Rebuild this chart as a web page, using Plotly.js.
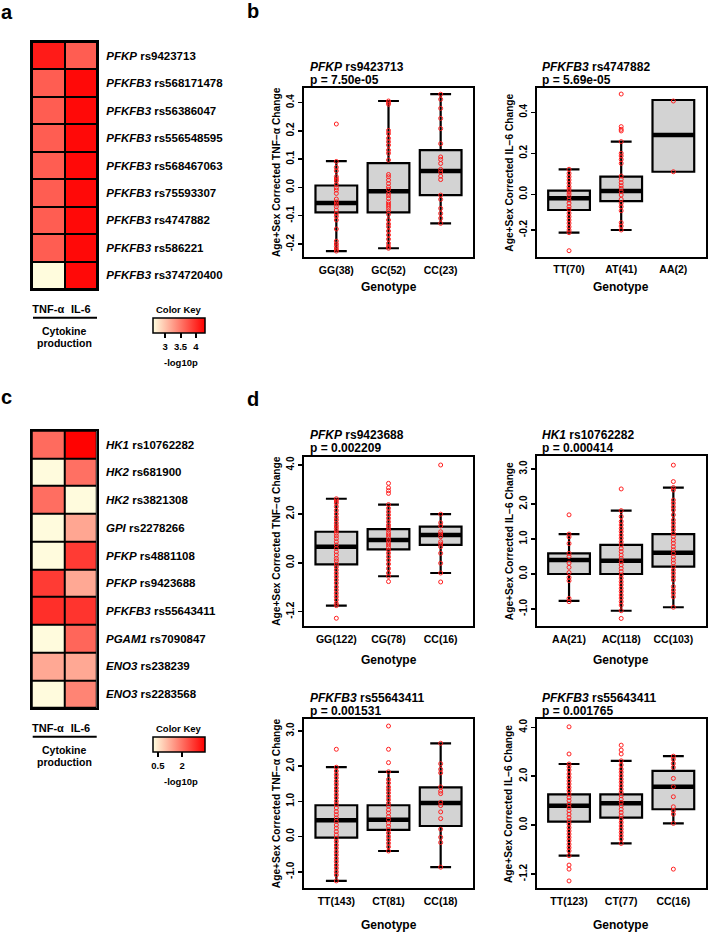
<!DOCTYPE html>
<html><head><meta charset="utf-8">
<script src="https://cdn.plot.ly/plotly-3.0.1.min.js"></script>
<style>html,body{margin:0;padding:0;background:#fff}</style>
</head><body><div id="chart" style="width:708px;height:932px"></div>
<script>
// ---------------- DATA ----------------
const cytokines = ['TNF-α', 'IL-6'];
// panel a
const aGenes = ['PFKP','PFKFB3','PFKFB3','PFKFB3','PFKFB3','PFKFB3','PFKFB3','PFKFB3','PFKFB3'];
const aSnps = ['rs9423713','rs568171478','rs56386047','rs556548595','rs568467063','rs75593307','rs4747882','rs586221','rs374720400'];
const aTNF = [4.12, 3.68, 3.68, 3.68, 3.68, 3.68, 3.68, 3.68, 2.62];
const aIL6 = [3.68, 4.24, 4.24, 4.24, 4.24, 4.24, 4.24, 4.24, 4.24];
const aKeyTicks = [3, 3.5, 4];
// panel c
const cGenes = ['HK1','HK2','HK2','GPI','PFKP','PFKP','PFKFB3','PGAM1','ENO3','ENO3'];
const cSnps = ['rs10762282','rs681900','rs3821308','rs2278266','rs4881108','rs9423688','rs55643411','rs7090847','rs238239','rs2283568'];
const cTNF = [2.06, 0.25, 2.02, 0.25, 0.25, 2.66, 2.81, 0.25, 1.29, 0.25];
const cIL6 = [3.38, 1.99, 0.25, 1.32, 2.66, 1.29, 2.75, 2.12, 1.29, 1.74];
const cKeyTicks = [0.5, 2];

// panel b left
const bTnfTitle = ['PFKP', 'rs9423713', '7.50e-05'];
const bTnfGroups = ['GG(38)', 'GC(52)', 'CC(23)'];
const bTnfQ1 = [-0.088, -0.088, -0.027];
const bTnfMed = [-0.055, -0.013, 0.058];
const bTnfQ3 = [0.007, 0.086, 0.132];
const bTnfLo = [-0.225, -0.215, -0.127];
const bTnfHi = [0.093, 0.412, 0.46];
const bTnfPts = [
  [0.249,0.092,0.071,0.059,0.038,0.030,0.023,0.011,-0.001,-0.009,-0.021,-0.041,-0.051,-0.059,-0.068,-0.080,-0.092,-0.102,-0.115,-0.147,-0.190,-0.200,-0.209,-0.218,-0.225],
  [0.412,0.400,0.389,0.203,0.191,0.174,0.162,0.150,0.132,0.121,0.097,0.046,0.038,0.026,0.014,0.002,-0.007,-0.021,-0.029,-0.039,-0.051,-0.059,-0.066,-0.074,-0.083,-0.095,-0.115,-0.129,-0.139,-0.154,-0.168,-0.183,-0.198,-0.209,-0.215],
  [0.46,0.424,0.36,0.289,0.217,0.155,0.108,0.099,0.085,0.064,0.055,0.040,0.028,-0.027,-0.042,-0.074,-0.092,-0.109,-0.127]
];
const bTnfTicks = [-0.2, -0.1, 0.0, 0.1, 0.2, 0.4];

// panel b right
const bIl6Title = ['PFKFB3', 'rs4747882', '5.69e-05'];
const bIl6Groups = ['TT(70)', 'AT(41)', 'AA(2)'];
const bIl6Q1 = [-0.088, -0.038, 0.11];
const bIl6Med = [-0.022, 0.016, 0.289];
const bIl6Q3 = [0.018, 0.086, 0.46];
const bIl6Lo = [-0.215, -0.2, 0.11];
const bIl6Hi = [0.122, 0.257, 0.46];
const bIl6Pts = [
  [0.122,0.102,0.086,0.070,0.054,0.037,0.024,0.013,0.001,-0.013,-0.032,-0.050,-0.069,-0.084,-0.106,-0.125,-0.144,-0.162,-0.182,-0.200,-0.215,-0.316],
  [0.489,0.330,0.317,0.309,0.257,0.200,0.187,0.170,0.151,0.089,0.073,0.057,0.042,0.029,0.013,-0.004,-0.028,-0.050,-0.069,-0.092,-0.159,-0.178,-0.200],
  [0.455,0.11]
];
const bIl6Ticks = [-0.2, 0.0, 0.2, 0.4];

// panel d top-left
const dTnf1Title = ['PFKP', 'rs9423688', '0.002209'];
const dTnf1Groups = ['GG(122)', 'CG(78)', 'CC(16)'];
const dTnf1Q1 = [-0.04, 0.55, 0.73];
const dTnf1Med = [0.66, 0.93, 1.14];
const dTnf1Q3 = [1.27, 1.38, 1.48];
const dTnf1Lo = [-1.05, -0.33, -0.25];
const dTnf1Hi = [2.62, 2.38, 1.99];
const dTnf1Pts = [
  [2.62,2.53,2.44,2.30,2.14,2.00,1.86,1.75,1.62,1.51,1.41,1.31,1.21,1.10,0.99,0.86,0.73,0.59,0.45,0.32,0.18,0.08,-0.03,-0.10,-0.18,-0.26,-0.34,-0.42,-0.50,-0.59,-0.67,-0.75,-0.83,-0.91,-1.00,-1.05,-1.36],
  [3.25,3.07,2.95,2.84,2.38,2.23,2.09,1.96,1.82,1.68,1.55,1.45,1.34,1.23,1.14,1.04,0.93,0.82,0.73,0.63,0.52,0.39,0.25,0.11,-0.03,-0.14,-0.25,-0.33,-0.46],
  [4.0,1.99,1.64,1.51,1.27,1.18,1.07,0.86,0.77,0.66,0.39,-0.01,-0.25,-0.47]
];
const dTnf1Ticks = [-1.2, 0.0, 2.0, 4.0];

// panel d top-right
const dIl6aTitle = ['HK1', 'rs10762282', '0.000414'];
const dIl6aGroups = ['AA(21)', 'AC(118)', 'CC(103)'];
const dIl6aQ1 = [0.0, 0.0, 0.21];
const dIl6aMed = [0.40, 0.38, 0.61];
const dIl6aQ3 = [0.59, 0.83, 1.14];
const dIl6aLo = [-0.77, -1.05, -0.95];
const dIl6aHi = [1.14, 1.81, 2.47];
const dIl6aPts = [
  [1.69,1.14,1.06,0.87,0.59,0.50,0.31,0.19,0.04,-0.10,-0.19,-0.70,-0.79],
  [2.43,1.81,1.64,1.50,1.40,1.30,1.21,1.11,1.02,0.92,0.83,0.73,0.64,0.54,0.45,0.35,0.26,0.16,0.07,-0.03,-0.12,-0.22,-0.31,-0.41,-0.50,-0.60,-0.69,-0.79,-0.89,-1.05,-1.27],
  [3.11,2.64,2.47,2.40,2.11,2.02,1.92,1.83,1.69,1.54,1.45,1.35,1.26,1.16,1.07,0.97,0.88,0.78,0.69,0.59,0.49,0.40,0.31,0.21,0.11,0.02,-0.08,-0.17,-0.36,-0.46,-0.55,-0.65,-0.95]
];
const dIl6aTicks = [-1.0, 0.0, 1.0, 2.0, 3.0];

// panel d bottom-left
const dTnf2Title = ['PFKFB3', 'rs55643411', '0.001531'];
const dTnf2Groups = ['TT(143)', 'CT(81)', 'CC(18)'];
const dTnf2Q1 = [-0.03, 0.19, 0.30];
const dTnf2Med = [0.46, 0.48, 0.95];
const dTnf2Q3 = [0.89, 0.89, 1.40];
const dTnf2Lo = [-1.26, -0.41, -0.87];
const dTnf2Hi = [1.97, 1.84, 2.65];
const dTnf2Pts = [
  [2.48,1.97,1.86,1.76,1.67,1.57,1.48,1.38,1.29,1.19,1.10,1.00,0.91,0.81,0.71,0.62,0.53,0.43,0.33,0.24,0.14,0.05,-0.05,-0.14,-0.24,-0.33,-0.43,-0.52,-0.62,-0.71,-0.81,-0.90,-1.00,-1.09,-1.26],
  [3.14,2.48,2.10,1.84,1.62,1.52,1.41,1.33,1.24,1.14,1.05,0.95,0.86,0.76,0.67,0.57,0.48,0.38,0.29,0.19,0.10,0.00,-0.09,-0.19,-0.29,-0.41],
  [2.65,2.07,1.91,1.81,1.41,1.29,1.22,0.97,0.88,0.70,0.51,0.21,-0.02,-0.17,-0.87]
];
const dTnf2Ticks = [-1.0, 0.0, 1.0, 2.0, 3.0];

// panel d bottom-right
const dIl6bTitle = ['PFKFB3', 'rs55643411', '0.001765'];
const dIl6bGroups = ['TT(123)', 'CT(77)', 'CC(16)'];
const dIl6bQ1 = [0.14, 0.31, 0.65];
const dIl6bMed = [0.79, 0.89, 1.57];
const dIl6bQ3 = [1.26, 1.26, 2.22];
const dIl6bLo = [-0.75, -0.45, 0.07];
const dIl6bHi = [2.50, 2.63, 2.82];
const dIl6bPts = [
  [4.02,2.91,2.50,2.39,2.25,2.09,1.95,1.81,1.68,1.54,1.41,1.27,1.13,1.00,0.86,0.72,0.59,0.45,0.31,0.18,0.04,-0.06,-0.14,-0.22,-0.30,-0.38,-0.47,-0.55,-0.63,-0.75,-0.98,-1.08,-1.37],
  [3.27,3.07,2.91,2.63,2.46,2.29,2.16,2.02,1.88,1.75,1.61,1.47,1.34,1.20,1.06,0.93,0.79,0.65,0.52,0.38,0.25,0.11,-0.02,-0.10,-0.18,-0.26,-0.34,-0.45],
  [2.82,2.69,2.52,2.36,1.91,1.57,1.16,0.75,0.59,0.45,0.07,-1.08]
];
const dIl6bTicks = [-1.2, 0.0, 2.0, 4.0];

// ---------------- LAYOUT HELPERS ----------------
const W = 708, H = 932;
const fx = px => px / W;
const fy = py => 1 - py / H;
const FONT = "'Liberation Sans', Arial, Helvetica, sans-serif";
const TNFT = 'Age+Sex Corrected TNF\u2212\u03b1 Change';
const IL6T = 'Age+Sex Corrected IL\u22126 Change';
const f = (size) => ({family: FONT, size: size, weight: 'bold', color: '#000'});

const traces = [];
const annotations = [];
const shapes = [];
const layout = {
  width: W, height: H, margin: {l:0, r:0, t:0, b:0},
  paper_bgcolor: '#fff', plot_bgcolor: '#fff', showlegend: false,
  boxmode: 'overlay', font: {family: FONT, color: '#000'}
};

function ann(text, x, y, opts) {
  annotations.push(Object.assign({text: text, x: fx(x), y: fy(y), xref: 'paper', yref: 'paper',
    showarrow: false, xanchor: 'center', yanchor: 'middle', borderpad: 0,
    font: f(10.5)}, opts || {}));
}

// ---------------- HEATMAPS ----------------
const HCOLORS = [[0, '#FFFFE0'], [1, '#FF0000']];
function heatmap(k, genes, snps, tnf, il6, dom, zr, keyTicks) {
  const [L, R, T, B] = dom;
  const n = genes.length;
  const z = genes.map((g, i) => [tnf[i], il6[i]]);
  const xa = k === 1 ? 'x' : 'x' + k, ya = k === 1 ? 'y' : 'y' + k;
  traces.push({
    type: 'heatmap', xaxis: xa, yaxis: ya, z: z,
    x: cytokines.map((c, i) => i), y: genes.map((g, i) => i),
    colorscale: HCOLORS, zmin: zr[0], zmax: zr[1], xgap: 2, ygap: 2, hoverinfo: 'skip',
    showscale: true,
    colorbar: {orientation: 'h', x: fx(179), xanchor: 'center', y: fy(B + 29), yanchor: 'top',
      len: 52, lenmode: 'pixels', thickness: 15, thicknessmode: 'pixels',
      outlinewidth: 1.5, outlinecolor: '#000', xpad: 0, ypad: 0,
      ticks: 'outside', ticklen: 5, tickwidth: 2, tickcolor: '#000',
      tickvals: keyTicks, ticktext: keyTicks.map(String),
      tickfont: f(9.5), title: {text: ''}}
  });
  const axx = k === 1 ? 'xaxis' : 'xaxis' + k, axy = k === 1 ? 'yaxis' : 'yaxis' + k;
  layout[axx] = {domain: [fx(L), fx(R)], anchor: ya, range: [-0.5, 1.5],
    tickvals: [0, 1], ticktext: cytokines, ticks: 'outside', ticklen: 9, tickcolor: 'rgba(0,0,0,0)',
    tickfont: f(11),
    showline: true, mirror: true, linewidth: 2, linecolor: '#000', showgrid: false, zeroline: false, fixedrange: true};
  layout[axy] = {domain: [fy(B), fy(T)], anchor: xa, range: [n - 0.5, -0.5], side: 'right',
    tickvals: genes.map((g, i) => i), ticktext: genes.map((g, i) => '<i>' + g + '</i> ' + snps[i]),
    ticks: 'outside', ticklen: 5, tickcolor: 'rgba(0,0,0,0)',
    tickfont: f(11.5),
    showline: true, mirror: true, linewidth: 2, linecolor: '#000', showgrid: false, zeroline: false, fixedrange: true};
  shapes.push({type: 'rect', xref: xa + ' domain', yref: ya + ' domain', x0: 0, x1: 1, y0: 0, y1: 1,
    fillcolor: '#000', line: {width: 0}, layer: 'below'});
  shapes.push({type: 'line', xref: 'paper', yref: 'paper', x0: fx(L + 1), x1: fx(R), y0: fy(B + 28.7), y1: fy(B + 28.7),
    line: {color: '#000', width: 2}});
  ann('Cytokine', (L + R) / 2, B + 42, {font: f(10.5)});
  ann('production', (L + R) / 2, B + 54, {font: f(10.5)});
  ann('Color Key', 179, B + 20, {font: f(9.5)});
  ann('-log10p', 181, B + 73.7, {font: f(9.5)});
}
heatmap(1, aGenes, aSnps, aTNF, aIL6, [32, 97, 42, 289], [2.6, 4.3], aKeyTicks);
heatmap(2, cGenes, cSnps, cTNF, cIL6, [31.7, 96.7, 430.7, 708], [0.2, 3.4], cKeyTicks);

// ---------------- BOX PLOTS ----------------
function interp(v, labels, pos) {
  const n = labels.length;
  let i = 0;
  if (v >= labels[n - 1]) i = n - 2;
  else if (v > labels[0]) { while (v > labels[i + 1]) i++; }
  const t = (v - labels[i]) / (labels[i + 1] - labels[i]);
  return pos[i] + t * (pos[i + 1] - pos[i]);
}

const boxPanels = [
  {k: 3, title: bTnfTitle, ytitle: TNFT, groups: bTnfGroups, q1: bTnfQ1, med: bTnfMed, q3: bTnfQ3, lo: bTnfLo, hi: bTnfHi, pts: bTnfPts, ticks: bTnfTicks,
   frame: [304, 473, 88, 257], tickPos: [0, 1, 2, 3, 4, 5], range: [-0.46, 5.52], genoDy: 30},
  {k: 4, title: bIl6Title, ytitle: IL6T, groups: bIl6Groups, q1: bIl6Q1, med: bIl6Med, q3: bIl6Q3, lo: bIl6Lo, hi: bIl6Hi, pts: bIl6Pts, ticks: bIl6Ticks,
   frame: [536.7, 705.7, 88.3, 256.7], tickPos: [0, 0.871, 1.871, 2.871], range: [-0.651, 3.456], genoDy: 30},
  {k: 5, title: dTnf1Title, ytitle: TNFT, groups: dTnf1Groups, q1: dTnf1Q1, med: dTnf1Med, q3: dTnf1Q3, lo: dTnf1Lo, hi: dTnf1Hi, pts: dTnf1Pts, ticks: dTnf1Ticks,
   frame: [304, 473, 456.7, 626], tickPos: [0, 1, 2, 3], range: [-0.292, 3.17], genoDy: 34},
  {k: 6, title: dIl6aTitle, ytitle: IL6T, groups: dIl6aGroups, q1: dIl6aQ1, med: dIl6aMed, q3: dIl6aQ3, lo: dIl6aLo, hi: dIl6aHi, pts: dIl6aPts, ticks: dIl6aTicks,
   frame: [536.7, 705.7, 456, 626], tickPos: [-1, 0, 1, 2, 3], range: [-1.486, 3.371], genoDy: 34},
  {k: 7, title: dTnf2Title, ytitle: TNFT, groups: dTnf2Groups, q1: dTnf2Q1, med: dTnf2Med, q3: dTnf2Q3, lo: dTnf2Lo, hi: dTnf2Hi, pts: dTnf2Pts, ticks: dTnf2Ticks,
   frame: [304, 473, 719, 888.3], tickPos: [-1, 0, 1, 2, 3], range: [-1.47, 3.34], genoDy: 37},
  {k: 8, title: dIl6bTitle, ytitle: IL6T, groups: dIl6bGroups, q1: dIl6bQ1, med: dIl6bMed, q3: dIl6bQ3, lo: dIl6bLo, hi: dIl6bHi, pts: dIl6bPts, ticks: dIl6bTicks,
   frame: [536.7, 705.7, 719.3, 888.3], tickPos: [0, 1, 2, 3], range: [-0.292, 3.164], genoDy: 37}
];

boxPanels.forEach(p => {
  const xa = 'x' + p.k, ya = 'y' + p.k;
  const m = v => interp(v, p.ticks, p.tickPos);
  const pos = p.groups.map((g, i) => i + 1);
  traces.push({type: 'box', xaxis: xa, yaxis: ya, x: pos,
    q1: p.q1.map(m), median: p.med.map(m), q3: p.q3.map(m),
    lowerfence: p.lo.map(m), upperfence: p.hi.map(m),
    width: 0.8, whiskerwidth: 0.5, fillcolor: '#D3D3D3', boxpoints: false,
    line: {color: '#000', width: 2.2}, hoverinfo: 'skip'});
  const mx = [], my = [];
  p.med.forEach((v, i) => { mx.push(pos[i] - 0.4, pos[i] + 0.4, null); my.push(m(v), m(v), null); });
  traces.push({type: 'scatter', mode: 'lines', xaxis: xa, yaxis: ya, x: mx, y: my,
    line: {color: '#000', width: 4.5}, hoverinfo: 'skip'});
  const px = [], py = [];
  p.pts.forEach((arr, i) => arr.forEach(v => { px.push(pos[i]); py.push(m(v)); }));
  traces.push({type: 'scatter', mode: 'markers', xaxis: xa, yaxis: ya, x: px, y: py,
    marker: {symbol: 'circle-open', size: 4, color: '#FF2020', line: {width: 1, color: '#FF2020'}},
    hoverinfo: 'skip', cliponaxis: false});
  const [L, R, T, B] = p.frame;
  layout['xaxis' + p.k] = {domain: [fx(L), fx(R)], anchor: ya, range: [0.38, 3.62],
    tickvals: pos, ticktext: p.groups, ticks: 'outside', ticklen: 2, tickcolor: 'rgba(0,0,0,0)',
    tickfont: f(10.5),
    showline: true, mirror: true, linewidth: 2, linecolor: '#000', showgrid: false, zeroline: false, fixedrange: true};
  layout['yaxis' + p.k] = {domain: [fy(B), fy(T)], anchor: xa, range: p.range,
    tickvals: p.tickPos, ticktext: p.ticks.map(v => v.toFixed(1)), tickangle: -90,
    ticks: 'outside', ticklen: 4, tickwidth: 1.5, tickcolor: '#000',
    tickfont: f(10),
    showline: true, mirror: true, linewidth: 2, linecolor: '#000', showgrid: false, zeroline: false, fixedrange: true};
  ann('<i>' + p.title[0] + '</i> ' + p.title[1], L + 4.5, T - 21.3, {xanchor: 'left', font: f(12)});
  ann('p = ' + p.title[2], L + 4.5, T - 8.5, {xanchor: 'left', font: f(12)});
  ann(p.ytitle, L - 27.5, (T + B) / 2, {textangle: -90, font: f(10.2)});
  ann('Genotype', (L + R) / 2, B + p.genoDy, {font: f(12)});
});

// panel letters
ann('a', 0, 12, {xanchor: 'left', font: f(20)});
ann('b', 246, 11, {xanchor: 'left', font: f(20)});
ann('c', 0, 397, {xanchor: 'left', font: f(20)});
ann('d', 246, 398.5, {xanchor: 'left', font: f(20)});

layout.annotations = annotations;
layout.shapes = shapes;
Plotly.newPlot('chart', traces, layout, {displayModeBar: false, staticPlot: true});
</script>
</body></html>
